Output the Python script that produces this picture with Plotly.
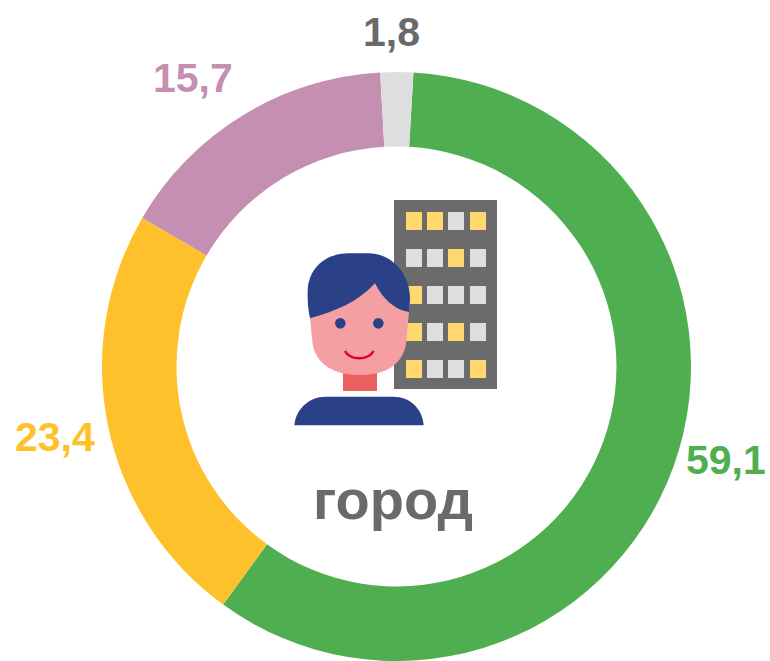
import plotly.graph_objects as go

# Data
categories = ["green", "yellow", "mauve", "grey"]
values = [59.1, 23.4, 15.7, 1.8]
colors = ["#4FAE4F", "#FFC12B", "#C48FB0", "#DEDEDE"]
value_labels = ["59,1", "23,4", "15,7", "1,8"]
label_colors = ["#4FAE4F", "#FFC12B", "#C48FB0", "#6A6A6A"]
label_centers = [(726, 460), (55, 437), (193, 78), (391, 32)]
center_title = "город"
window_rows = ["YYGY", "GGYG", "YGGG", "YGYG", "YGGY"]

W, H = 770, 661
CX, CY, R = 396.5, 366.5, 294.5
FONT = "Liberation Sans, Arial, sans-serif"


def px(x):
    return x / W


def py(y):
    return 1 - y / H


def z(x, y):
    return 285 + x / 3, 190 + y / 3


def path(cmds):
    out = []
    for c in cmds:
        if isinstance(c, str):
            out.append(c)
        else:
            x, y = z(*c)
            out.append(f"{px(x):.5f},{py(y):.5f}")
    return " ".join(out)


def rect(x0, y0, x1, y1, color):
    return dict(type="rect", xref="paper", yref="paper", x0=px(x0), x1=px(x1), y0=py(y0), y1=py(y1),
                fillcolor=color, line_width=0, layer="above")


def poly(cmds, color):
    return dict(type="path", xref="paper", yref="paper", path=path(cmds), fillcolor=color,
                line_width=0, layer="above")


def circle(cx, cy, r, color):
    x, y = z(cx, cy)
    rr = r / 3
    return dict(type="circle", xref="paper", yref="paper", x0=px(x - rr), x1=px(x + rr),
                y0=py(y + rr), y1=py(y - rr), fillcolor=color, line_width=0, layer="above")


shapes = [rect(394, 200, 497, 389, "#6A6B6A")]
col_x = [(406, 422), (427, 443), (448, 464), (470, 486)]
row_y = [(212, 230), (249, 267), (286, 304), (323, 341), (360, 378)]
for (y0, y1), row in zip(row_y, window_rows):
    for (x0, x1), k in zip(col_x, row):
        shapes.append(rect(x0, y0, x1, y1, "#FFD970" if k == "Y" else "#DEDEDE"))

shapes.append(rect(343, 370, 377, 391, "#EB6060"))
shapes.append(poly(["M", (28, 706), "C", (32, 655), (75, 620), (120, 620), "L", (325, 620), "C", (375, 620),
                    (412, 655), (416, 706), "Z"], "#2A4187"))
shapes.append(poly(["M", (70, 330), "L", (82, 455), "C", (90, 525), (150, 555), (225, 555), "C", (300, 555),
                    (355, 525), (364, 455), "L", (375, 330), "C", (370, 250), (80, 250), (70, 330), "Z"], "#F4A0A3"))
shapes.append(poly(["M", (75, 385), "C", (66, 340), (68, 310), (68, 300), "C", (72, 235), (120, 190), (190, 190),
                    "L", (250, 190), "C", (320, 190), (375, 250), (375, 325), "L", (372, 366), "C", (330, 360),
                    (295, 330), (270, 280), "C", (220, 335), (150, 365), (75, 385), "Z"], "#2A4187"))
shapes.append(circle(166, 400, 16, "#2A4187"))
shapes.append(circle(280, 400, 16, "#2A4187"))
shapes.append(dict(type="path", xref="paper", yref="paper", layer="above",
                   path=path(["M", (180, 483), "C", (195, 512), (250, 512), (266, 483)]),
                   line=dict(color="#E4002B", width=2.5)))

annotations = [
    dict(x=px(x), y=py(y), xref="paper", yref="paper", text=f"<b>{t}</b>", showarrow=False,
         xanchor="center", yanchor="middle", font=dict(family=FONT, size=41, color=c))
    for t, c, (x, y) in zip(value_labels, label_colors, label_centers)
]
annotations.append(dict(x=px(393), y=py(500), xref="paper", yref="paper", text=f"<b>{center_title}</b>",
                        showarrow=False, xanchor="center", yanchor="middle",
                        font=dict(family=FONT, size=56, color="#6A6A6A")))

fig = go.Figure(go.Pie(
    labels=categories, values=values, sort=False, direction="clockwise", rotation=3.3,
    hole=0.747, textinfo="none", hoverinfo="skip", showlegend=False,
    marker=dict(colors=colors, line=dict(width=0)),
    domain=dict(x=[px(CX - R), px(CX + R)], y=[py(CY + R), py(CY - R)]),
))
fig.update_layout(width=W, height=H, margin=dict(l=0, r=0, t=0, b=0), paper_bgcolor="white",
                  shapes=shapes, annotations=annotations, font=dict(family=FONT))
fig.write_html("out.html", config=dict(displayModeBar=False),
               post_script="document.body.style.margin='0';document.body.style.overflow='hidden';")
